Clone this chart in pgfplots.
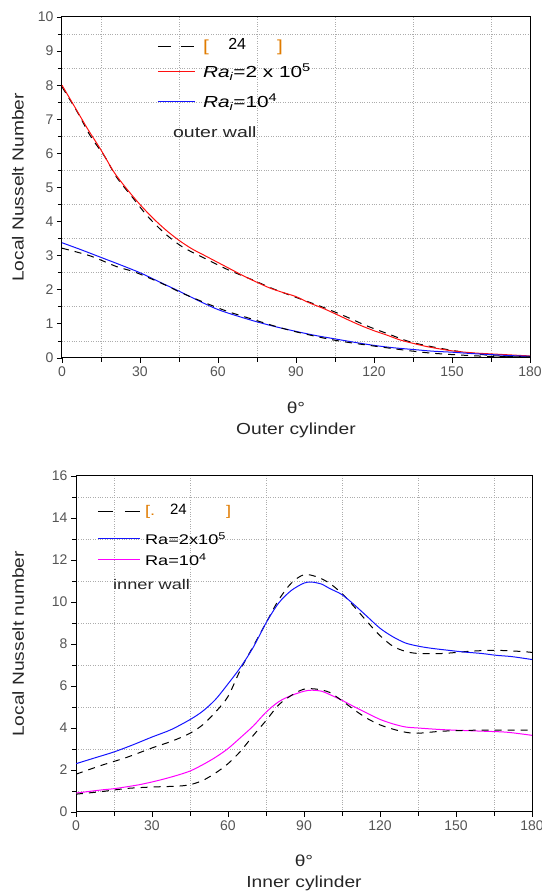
\documentclass[border=0pt]{standalone}
\usepackage{fontspec}
\setmainfont{Liberation Sans}
\newfontfamily\wide[FakeStretch=1.3]{Liberation Sans}
\newfontfamily\lab[FakeStretch=1.2]{Liberation Sans}
\usepackage{pgfplots}
\pgfplotsset{compat=1.18}
\definecolor{tickgray}{HTML}{555555}
\definecolor{brk}{HTML}{E07B00}
\definecolor{myblue}{HTML}{1414FF}
\definecolor{mymag}{HTML}{FF00FF}
\definecolor{myred}{HTML}{FF1010}
\pgfplotsset{
 myaxis/.style={
  scale only axis, xmin=0, xmax=180, xtick={0,30,...,180},
  minor x tick num=1, minor y tick num=1,
  grid=minor, minor grid style={dotted, gray!65, line width=0.7pt},
  tick align=outside, xtick pos=lower, ytick pos=lower,
  major tick length=5pt, minor tick length=4pt,
  every tick/.style={black, line width=0.8pt},
  axis line style={line width=1pt},
  ticklabel style={font=\fontsize{14}{16}\selectfont, text=tickgray},
  /pgf/number format/assume math mode=true,
  label style={font=\lab\fontsize{16}{21}\selectfont, text=black!85},
 },
}
\begin{document}
\begin{tikzpicture}
\path[use as bounding box] (0pt,0pt) rectangle (541pt,894pt);
% ---------------- top panel ----------------
\begin{axis}[myaxis, at={(62pt,536pt)}, anchor=south west, width=468pt, height=341pt,
  ymin=0, ymax=10, ytick={0,1,...,10},
  xlabel={θ°\\Outer cylinder},
  xlabel style={align=center, at={(axis description cs:0.5,-0.118)}, anchor=north},
  ylabel={Local Nusselt Number},
  ylabel style={at={(axis description cs:-0.094,0.5)}, anchor=center},
]
\addplot[draw=black, line width=1pt, dash pattern=on 7pt off 6pt, smooth] coordinates {(0,7.95)(6,7.2)(11,6.5)(16.5,5.9)(21,5.3)(27,4.72)(33,4.15)(39.6,3.65)(46.5,3.25)(55.5,2.9)(63.5,2.6)(73,2.3)(81.5,2.02)(91,1.75)(100,1.5)(109,1.22)(117,0.95)(126,0.69)(134,0.47)(143,0.32)(152,0.2)(160,0.12)(165,0.07)(172,0.05)(180,0.05)};
\addplot[draw=myred, line width=1pt, smooth] coordinates {(0,8.0)(5,7.35)(10,6.7)(15,6.1)(20,5.45)(25,4.95)(30,4.5)(35,4.1)(40,3.75)(45,3.45)(50,3.2)(55,3.0)(60,2.8)(65,2.6)(70,2.4)(75,2.22)(80,2.05)(85,1.92)(90,1.8)(95,1.62)(100,1.47)(105,1.3)(110,1.12)(115,0.95)(120,0.8)(125,0.67)(130,0.53)(135,0.43)(140,0.34)(145,0.27)(150,0.21)(155,0.17)(160,0.14)(165,0.12)(170,0.1)(175,0.08)(180,0.06)};
\addplot[draw=myblue, line width=1pt, smooth] coordinates {(0,3.38)(7.5,3.17)(15,2.95)(22.5,2.73)(30,2.5)(37.5,2.23)(45,1.96)(52.5,1.68)(60,1.42)(67.5,1.23)(75,1.06)(82.5,0.91)(90,0.78)(97.5,0.66)(105,0.56)(112.5,0.46)(120,0.37)(127.5,0.3)(135,0.25)(142.5,0.2)(150,0.17)(157.5,0.13)(165,0.1)(172.5,0.07)(180,0.05)};
\addplot[draw=black, line width=1pt, dash pattern=on 7pt off 6pt, smooth] coordinates {(0,3.22)(11,2.99)(21,2.68)(28,2.52)(38,2.2)(46,1.91)(55,1.62)(63.5,1.37)(73.5,1.13)(82,0.93)(91.5,0.74)(105,0.52)(121,0.34)(141,0.15)(163,0.05)(180,0.03)};
% legend keys
\draw[black, line width=1pt, dash pattern=on 13pt off 10pt] (axis description cs:0.205,0.912) -- ++(37pt,0pt);
\draw[myred, line width=1pt] (axis description cs:0.205,0.839) -- ++(37pt,0pt);
\draw[myblue, line width=1pt] (axis description cs:0.205,0.751) -- ++(37pt,0pt);
% legend texts
\node[anchor=west, inner sep=0pt, font=\wide\fontsize{16}{18}\selectfont, text=brk] at (axis description cs:0.301,0.912) {[};
\node[anchor=west, inner sep=0pt, font=\fontsize{16}{18}\selectfont, text=black] at (axis description cs:0.355,0.921) {24};
\node[anchor=west, inner sep=0pt, font=\wide\fontsize{16}{18}\selectfont, text=brk] at (axis description cs:0.459,0.912) {]};
\node[anchor=west, inner sep=0pt, font=\wide\fontsize{16}{18}\selectfont, text=black] at (axis description cs:0.301,0.839) {\textit{Ra\textsubscript{i}}=2 x 10\textsuperscript{5}};
\node[anchor=west, inner sep=0pt, font=\wide\fontsize{16}{18}\selectfont, text=black] at (axis description cs:0.301,0.751) {\textit{Ra\textsubscript{i}}=10\textsuperscript{4}};
\node[anchor=west, inner sep=0pt, font=\wide\fontsize{15}{18}\selectfont, text=black!85] at (axis description cs:0.237,0.663) {outer wall};
\end{axis}
% ---------------- bottom panel ----------------
\begin{axis}[myaxis, at={(76pt,82pt)}, anchor=south west, width=456pt, height=336pt,
  ymin=0, ymax=16, ytick={0,2,...,16},
  xlabel={θ°\\Inner cylinder},
  xlabel style={align=center, at={(axis description cs:0.5,-0.118)}, anchor=north},
  ylabel={Local Nusselt number},
  ylabel style={at={(axis description cs:-0.127,0.5)}, anchor=center},
]
\addplot[draw=black, line width=1pt, dash pattern=on 7pt off 6pt, smooth] coordinates {(0,1.8)(10,2.22)(20,2.6)(30,3.05)(38,3.38)(45,3.75)(50,4.15)(55,4.75)(60,5.5)(65,6.8)(70,7.9)(75,9.0)(80,10.1)(85,10.9)(90,11.3)(95,11.2)(100,10.9)(105,10.4)(110,9.75)(115,9.05)(120,8.4)(125,7.9)(130,7.65)(135,7.55)(145,7.55)(155,7.65)(165,7.7)(175,7.65)(180,7.6)};
\addplot[draw=myblue, line width=1pt, smooth] coordinates {(0,2.3)(7.5,2.58)(15,2.86)(22.5,3.2)(30,3.57)(37.5,3.92)(45,4.4)(50,4.8)(55,5.35)(60,6.1)(65,6.9)(70,7.85)(75,9.0)(80,9.95)(85,10.55)(90,10.9)(93,10.95)(97,10.85)(100,10.65)(105,10.35)(110,9.85)(115,9.3)(120,8.75)(125,8.35)(130,8.05)(135,7.9)(140,7.8)(147,7.7)(153,7.62)(160,7.55)(166,7.46)(172,7.4)(180,7.26)};
\addplot[draw=mymag, line width=1pt, smooth] coordinates {(0,0.9)(10,1.05)(15,1.11)(20,1.2)(25,1.3)(30,1.43)(35,1.58)(40,1.75)(45,1.95)(50,2.25)(55,2.6)(60,3.02)(65,3.55)(70,4.1)(75,4.75)(80,5.25)(85,5.55)(90,5.75)(93,5.8)(97,5.75)(100,5.6)(105,5.32)(110,5.0)(115,4.7)(120,4.41)(125,4.2)(130,4.05)(135,4.0)(145,3.92)(160,3.85)(170,3.8)(180,3.65)};
\addplot[draw=black, line width=1pt, dash pattern=on 7pt off 6pt, smooth] coordinates {(0,0.85)(10,0.97)(20,1.12)(30,1.19)(40,1.23)(45,1.3)(50,1.5)(55,1.85)(60,2.3)(65,2.9)(70,3.65)(75,4.35)(80,5.1)(85,5.55)(90,5.85)(95,5.85)(100,5.7)(105,5.3)(110,4.85)(115,4.45)(120,4.15)(125,3.95)(130,3.8)(135,3.75)(145,3.85)(160,3.9)(175,3.9)(180,3.9)};
% legend keys
\draw[black, line width=1pt, dash pattern=on 15pt off 12pt] (axis description cs:0.048,0.893) -- ++(42pt,0pt);
\draw[myblue, line width=1pt] (axis description cs:0.048,0.8125) -- ++(42pt,0pt);
\draw[mymag, line width=1pt] (axis description cs:0.048,0.75) -- ++(42pt,0pt);
% legend texts
\node[anchor=west, inner sep=0pt, font=\wide\fontsize{14}{16}\selectfont, text=brk] at (axis description cs:0.151,0.893) {[.};
\node[anchor=west, inner sep=0pt, font=\fontsize{15}{18}\selectfont, text=black] at (axis description cs:0.206,0.902) {24};
\node[anchor=west, inner sep=0pt, font=\wide\fontsize{14}{16}\selectfont, text=brk] at (axis description cs:0.329,0.893) {]};
\node[anchor=west, inner sep=0pt, font=\wide\fontsize{14}{16}\selectfont, text=black] at (axis description cs:0.151,0.8125) {Ra=2x10\textsuperscript{5}};
\node[anchor=west, inner sep=0pt, font=\wide\fontsize{14}{16}\selectfont, text=black] at (axis description cs:0.151,0.75) {Ra=10\textsuperscript{4}};
\node[anchor=west, inner sep=0pt, font=\wide\fontsize{14}{18}\selectfont, text=black!85] at (axis description cs:0.081,0.676) {inner wall};
\end{axis}
\end{tikzpicture}
\end{document}
